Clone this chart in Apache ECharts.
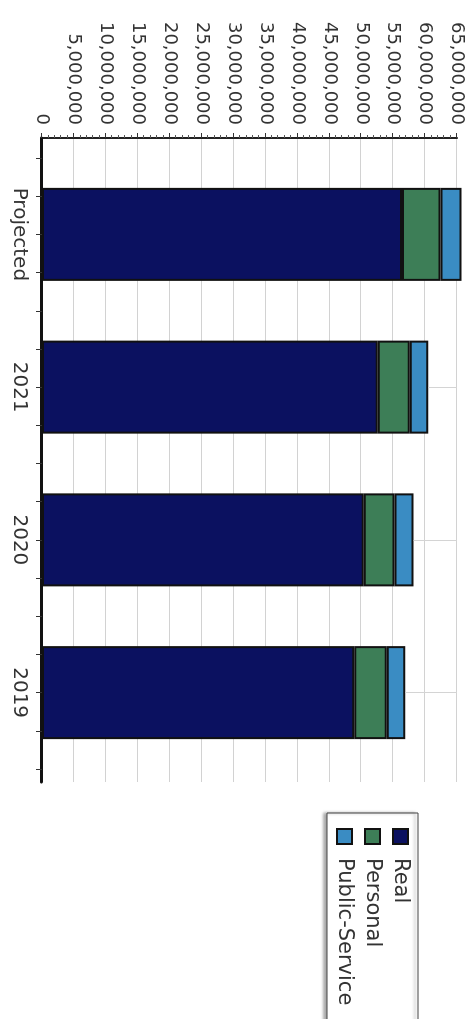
<!DOCTYPE html>
<html>
<head>
<meta charset="utf-8">
<script src="https://cdn.jsdelivr.net/npm/echarts@6/dist/echarts.min.js"></script>
<style>
  html, body { margin: 0; padding: 0; background: #fff; overflow: hidden; }
  body { width: 472px; height: 1019px; position: relative; }
  /* the chart is laid out upright, then turned a quarter clockwise like the photo */
  #chart {
    position: absolute; left: 0; top: 0;
    width: 1019px; height: 472px;
    transform-origin: 0 0;
    transform: translate(472px, 0) rotate(90deg);
  }
</style>
</head>
<body>
<div id="chart"></div>
<script>
// data
let categories = ['Projected', '2021', '2020', '2019']
let realValues = [56400000, 52600000, 50400000, 48900000]
let personalValues = [6000000, 5000000, 4800000, 5100000]
let publicServiceValues = [3300000, 2900000, 3000000, 2900000]
let seriesNames = ['Real', 'Personal', 'Public-Service']
let seriesColors = ['#0b1160', '#3d7e57', '#3a8cc3']
let axisMax = 65000000
let axisStep = 5000000
let minorTicksPerCategory = 4

let font = 'DejaVu Sans'

function withCommas(v) {
  return String(v).replace(/\B(?=(\d{3})+(?!\d))/g, ',')
}

let chart = echarts.init(document.getElementById('chart'))

let stacks = [realValues, personalValues, publicServiceValues]
let totals = categories.map((c, i) => realValues[i] + personalValues[i] + publicServiceValues[i])

let series = stacks.map((vals, k) => ({
  name: seriesNames[k],
  type: 'bar',
  stack: 'total',
  xAxisIndex: 1,
  yAxisIndex: 1,
  barWidth: 93,
  clip: false,
  data: vals,
  itemStyle: { color: seriesColors[k], borderColor: '#111', borderWidth: 2 }
}))

// faint centre lines that peek out past the end of each bar
series[2].markLine = {
  silent: true,
  symbol: 'none',
  label: { show: false },
  lineStyle: { color: '#d4d4d4', width: 1, type: 'solid' },
  data: categories.map((c, i) => [{ coord: [c, totals[i]] }, { coord: [c, axisMax] }])
}

chart.setOption({
  backgroundColor: '#fff',
  animation: false,
  textStyle: { fontFamily: font },
  grid: [
    { left: 138, right: 237, top: 15, bottom: 42 },
    { left: 158, right: 250, top: 15, bottom: 42 }
  ],
  xAxis: [
    {
      gridIndex: 0, type: 'value', min: 0, max: 1,
      axisLine: { show: true, lineStyle: { color: '#111', width: 3 } },
      axisTick: { show: false }, axisLabel: { show: false }, splitLine: { show: false }
    },
    {
      gridIndex: 1, type: 'category', data: categories, position: 'bottom',
      axisLine: { show: false }, axisTick: { show: false },
      axisLabel: { color: '#333', fontSize: 20, margin: 13, fontFamily: font }
    },
    {
      gridIndex: 1, type: 'value', position: 'bottom',
      min: 0, max: categories.length * minorTicksPerCategory, interval: 1,
      axisLine: { show: false },
      axisTick: { show: true, length: 6, lineStyle: { color: '#333', width: 1 } },
      axisLabel: { show: false }, splitLine: { show: false }
    }
  ],
  yAxis: [
    {
      gridIndex: 0, type: 'value', min: 0, max: axisMax, interval: axisStep,
      axisLine: { show: true, lineStyle: { color: '#222', width: 2 } },
      axisTick: { show: true, length: 5, lineStyle: { color: '#333' } },
      minorTick: { show: true, splitNumber: 5, length: 3, lineStyle: { color: '#555' } },
      axisLabel: {
        color: '#333', fontSize: 18, margin: 13, fontFamily: font,
        formatter: withCommas
      },
      splitLine: { show: true, lineStyle: { color: '#d2d2d2', width: 1 } }
    },
    {
      gridIndex: 1, type: 'value', min: 0, max: axisMax, show: false
    }
  ],
  legend: {
    orient: 'vertical',
    left: 813, top: 54,
    padding: [7, 30, 7, 15],
    itemWidth: 15, itemHeight: 15, itemGap: 7,
    icon: 'rect',
    data: seriesNames,
    borderColor: '#444', borderWidth: 1,
    backgroundColor: '#fff',
    shadowColor: 'rgba(0,0,0,0.35)', shadowBlur: 3, shadowOffsetY: 3,
    textStyle: { color: '#333', fontSize: 21, fontFamily: font, padding: [0, 0, 0, 9] }
  },
  series: series
})
</script>
</body>
</html>
